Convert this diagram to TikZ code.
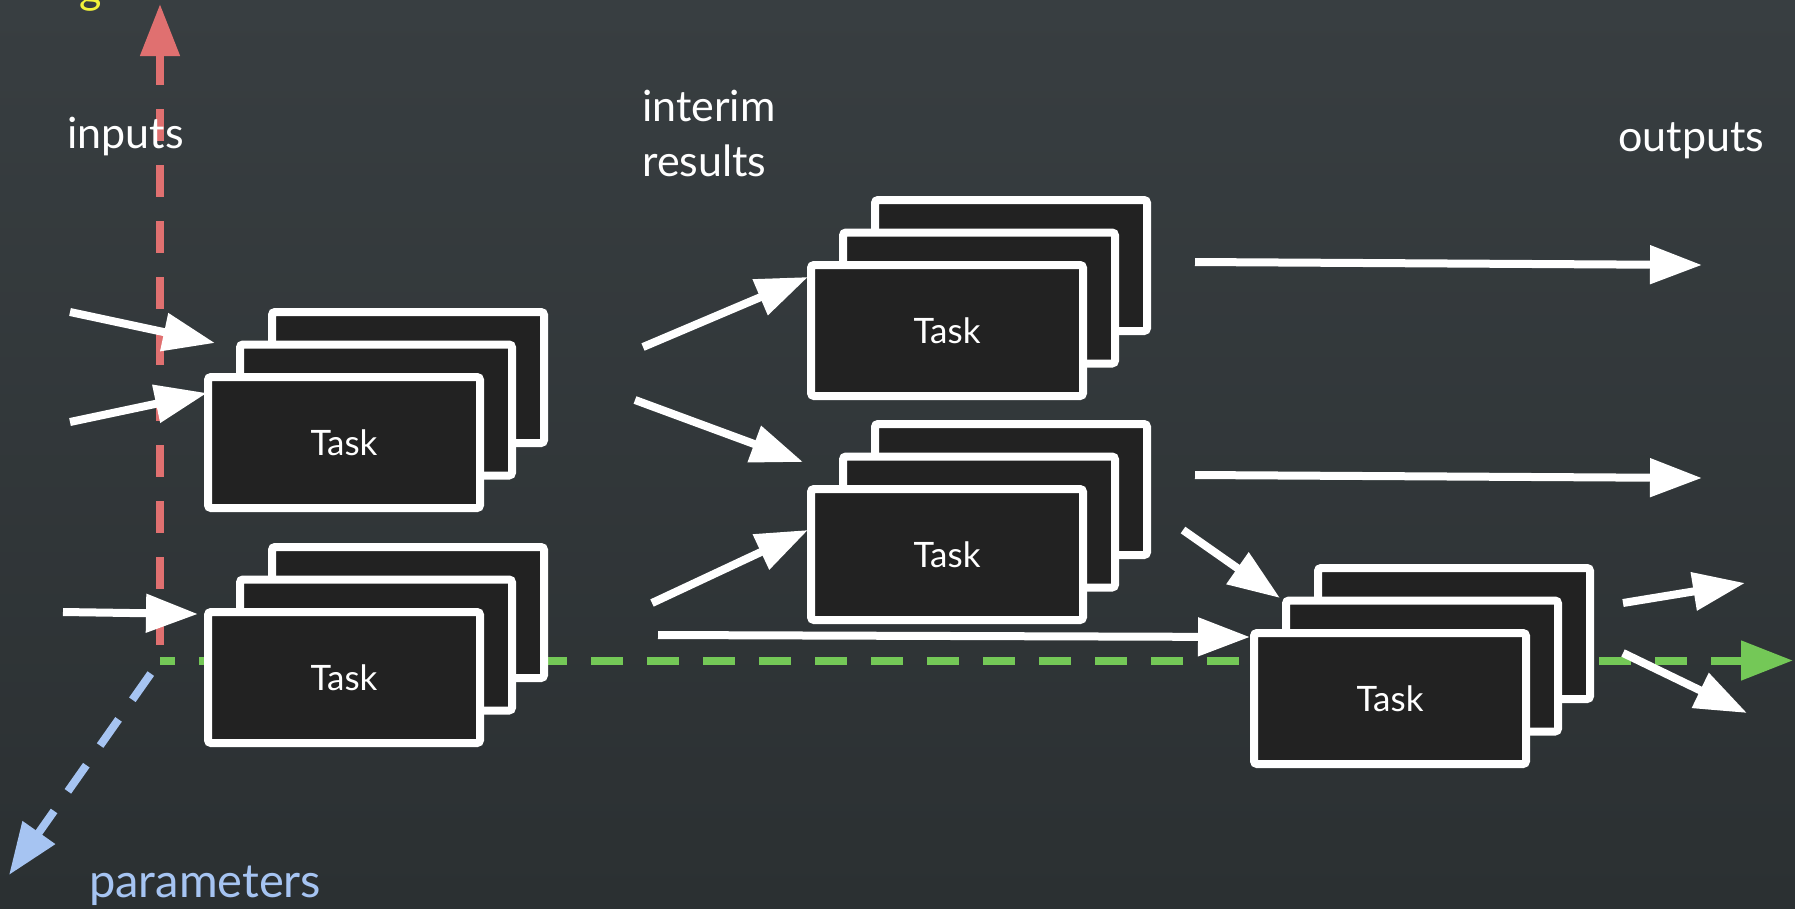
\documentclass[tikz,border=0pt]{standalone}
\usepackage{fontspec}
\setmainfont{Lato}
\usetikzlibrary{arrows.meta}
\definecolor{boardtop}{HTML}{383E41}
\definecolor{boardbottom}{HTML}{2B3032}
\definecolor{taskfill}{HTML}{222222}
\definecolor{axisred}{HTML}{E07070}
\definecolor{axisgreen}{HTML}{74C857}
\definecolor{axisblue}{HTML}{A6C4F2}
\definecolor{chalkyellow}{HTML}{F2F23A}

% three stacked task cards: back, middle, front (front carries the label)
\newcommand\taskstack[3]{%
  \node[card] (#1back) at (#2+64,#3-65) {};
  \node[card] (#1mid) at (#2+32,#3-32.5) {};
  \node[card, tasktext] (#1) at (#2,#3) {Task};
}

\begin{document}
\begin{tikzpicture}[x=1pt,y=-1pt,
  card/.style={draw=white, fill=taskfill, line width=8pt, rounded corners=3pt,
    minimum width=272pt, minimum height=131pt, inner sep=0pt},
  tasktext/.style={text=white, font=\fontsize{35}{40}\selectfont},
  flow/.style={draw=white, line width=8pt, -{Triangle[length=52pt,width=37pt]}},
  axis/.style={line width=8pt, dash pattern=on 32pt off 24pt,
    -{Triangle[length=52pt,width=38pt]}},
  label/.style={text=white, font=\fontsize{43}{52}\selectfont, inner sep=0pt}
]
% chalkboard
\useasboundingbox (0,0) rectangle (1795,908);
\shade[top color=boardtop, bottom color=boardbottom] (0,0) rectangle (1795,908);

% axes
\coordinate (O) at (160,660.5);
\coordinate (ytip) at (160,4);
\coordinate (xtip) at (1793,660.5);
\coordinate (ztip) at (9,875);
\draw[axis, axisred, dash phase=40pt] (O) -- (ytip);
\draw[axis, axisgreen, dash phase=17pt] (O) -- (xtip);
\draw[axis, axisblue, dash phase=40pt] (O) -- (ztip);

% task stacks
\taskstack{tA}{344}{442.5}
\taskstack{tB}{344}{677.5}
\taskstack{tC}{947}{330.5}
\taskstack{tD}{947}{554.5}
\taskstack{tE}{1390}{698.5}

% arrow end points
\coordinate (in1) at (70,312);    \coordinate (in1t) at (215,343);
\coordinate (in2) at (70,422);    \coordinate (in2t) at (207,393);
\coordinate (in3) at (63,612);    \coordinate (in3t) at (198,614);
\coordinate (m1) at (643,347);    \coordinate (m1t) at (808,277);
\coordinate (m2) at (635,400);    \coordinate (m2t) at (803,462);
\coordinate (m3) at (652,603);    \coordinate (m3t) at (808,530);
\coordinate (m4) at (658,635);    \coordinate (m4t) at (1250,637);
\coordinate (o1) at (1195,262);   \coordinate (o1t) at (1702,265);
\coordinate (o2) at (1195,475);   \coordinate (o2t) at (1702,478);
\coordinate (m5) at (1183,530);   \coordinate (m5t) at (1280,598);
\coordinate (o3) at (1623,603);   \coordinate (o3t) at (1745,583);
\coordinate (o4) at (1623,653);   \coordinate (o4t) at (1747,713);

% data flow
\draw[flow] (in1) -- (in1t);
\draw[flow] (in2) -- (in2t);
\draw[flow] (in3) -- (in3t);
\draw[flow] (m1) -- (m1t);
\draw[flow] (m2) -- (m2t);
\draw[flow] (m3) -- (m3t);
\draw[flow] (m4) -- (m4t);
\draw[flow] (o1) -- (o1t);
\draw[flow] (o2) -- (o2t);
\draw[flow] (m5) -- (m5t);
\draw[flow] (o3) -- (o3t);
\draw[flow] (o4) -- (o4t);

% labels
\node[label, text=chalkyellow, anchor=base west] (topnote) at (79,3) {g};
\node[label, anchor=base west] (inputs) at (67,148) {inputs};
\node[label, anchor=base west] (interim) at (642,121) {interim};
\node[label, anchor=base west] (results) at (642,176) {results};
\node[label, anchor=base west] (outputs) at (1618,151) {outputs};
\node[label, text=axisblue, anchor=base west, font=\fontsize{47}{56}\selectfont]
  (params) at (89,897) {parameters};
\end{tikzpicture}
\end{document}
